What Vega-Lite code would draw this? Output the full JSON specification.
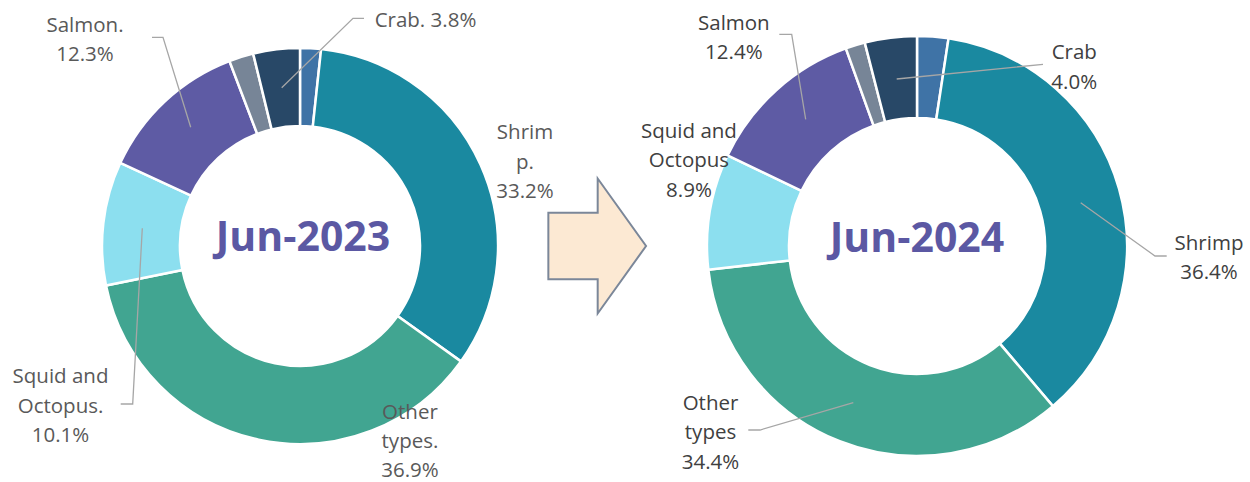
{
  "$schema": "https://vega.github.io/schema/vega-lite/v6.json",
  "width": 1250,
  "height": 492,
  "autosize": {"type": "none"},
  "padding": 0,
  "background": "white",
  "config": {"view": {"stroke": null}, "text": {"font": "Open Sans"}},
  "data": {
    "values": [
      {"period": "Jun-2023", "cat": "Unlabeled 1", "value": 1.7, "label": ""},
      {"period": "Jun-2023", "cat": "Shrimp", "value": 33.2, "label": "Shrim\np.\n33.2%"},
      {"period": "Jun-2023", "cat": "Other types", "value": 36.9, "label": "Other\ntypes.\n36.9%"},
      {"period": "Jun-2023", "cat": "Squid and Octopus", "value": 10.1, "label": "Squid and\nOctopus.\n10.1%"},
      {"period": "Jun-2023", "cat": "Salmon", "value": 12.3, "label": "Salmon.\n12.3%"},
      {"period": "Jun-2023", "cat": "Unlabeled 2", "value": 2.0, "label": ""},
      {"period": "Jun-2023", "cat": "Crab", "value": 3.8, "label": "Crab. 3.8%"},
      {"period": "Jun-2024", "cat": "Unlabeled 1", "value": 2.4, "label": ""},
      {"period": "Jun-2024", "cat": "Shrimp", "value": 36.4, "label": "Shrimp\n36.4%"},
      {"period": "Jun-2024", "cat": "Other types", "value": 34.4, "label": "Other\ntypes\n34.4%"},
      {"period": "Jun-2024", "cat": "Squid and Octopus", "value": 8.9, "label": "Squid and\nOctopus\n8.9%"},
      {"period": "Jun-2024", "cat": "Salmon", "value": 12.4, "label": "Salmon\n12.4%"},
      {"period": "Jun-2024", "cat": "Unlabeled 2", "value": 1.5, "label": ""},
      {"period": "Jun-2024", "cat": "Crab", "value": 4.0, "label": "Crab\n4.0%"}
    ]
  },
  "encoding": {
    "x": {
      "field": "period",
      "type": "nominal",
      "scale": {"type": "point", "domain": ["Jun-2023", "arrow", "Jun-2024"], "range": [300, 917], "padding": 0},
      "axis": null
    }
  },
  "layer": [
    {
      "transform": [
        {"filter": "datum.period === 'Jun-2023'"},
        {"window": [{"op": "row_number", "as": "idx"}]}
      ],
      "layer": [
        {
          "encoding": {
            "theta": {"field": "value", "type": "quantitative", "stack": true, "scale": {"domain": [0, 100]}},
            "order": {"field": "idx", "type": "quantitative"},
            "detail": {"field": "cat", "type": "nominal"}
          },
          "layer": [
            {
              "mark": {"type": "arc", "outerRadius": 198, "innerRadius": 120, "stroke": "white", "strokeWidth": 2.5},
              "encoding": {
                "color": {
                  "field": "cat", "type": "nominal", "legend": null,
                  "scale": {
                    "domain": ["Unlabeled 1", "Shrimp", "Other types", "Squid and Octopus", "Salmon", "Unlabeled 2", "Crab"],
                    "range": ["#3F73A6", "#1A89A0", "#41A591", "#8CDFEF", "#5E5BA4", "#778597", "#284867"]
                  }
                }
              }
            },
            {
              "mark": {"type": "text", "radius": 252.7, "thetaOffset": 0.6391, "align": "center", "baseline": "alphabetic", "fontSize": 20.5, "lineHeight": 29.3, "lineBreak": "\n", "color": "#595959"},
              "encoding": {"text": {"condition": {"test": "datum.cat === 'Crab'", "field": "label", "type": "nominal"}, "value": ""}}
            },
            {
              "mark": {"type": "text", "radius": 249.0, "thetaOffset": -0.0215, "align": "center", "baseline": "alphabetic", "fontSize": 20.5, "lineHeight": 29.3, "lineBreak": "\n", "color": "#595959"},
              "encoding": {"text": {"condition": {"test": "datum.cat === 'Shrimp'", "field": "label", "type": "nominal"}, "value": ""}}
            },
            {
              "mark": {"type": "text", "radius": 205.4, "thetaOffset": -0.7753, "align": "center", "baseline": "alphabetic", "fontSize": 20.5, "lineHeight": 29, "lineBreak": "\n", "color": "#595959"},
              "encoding": {"text": {"condition": {"test": "datum.cat === 'Other types'", "field": "label", "type": "nominal"}, "value": ""}}
            },
            {
              "mark": {"type": "text", "radius": 275.9, "thetaOffset": -0.636, "align": "center", "baseline": "alphabetic", "fontSize": 20.5, "lineHeight": 29.5, "lineBreak": "\n", "color": "#595959"},
              "encoding": {"text": {"condition": {"test": "datum.cat === 'Squid and Octopus'", "field": "label", "type": "nominal"}, "value": ""}}
            },
            {
              "mark": {"type": "text", "radius": 303.6, "thetaOffset": -0.0361, "align": "center", "baseline": "alphabetic", "fontSize": 20.5, "lineHeight": 29.3, "lineBreak": "\n", "color": "#595959"},
              "encoding": {"text": {"condition": {"test": "datum.cat === 'Salmon'", "field": "label", "type": "nominal"}, "value": ""}}
            }
          ]
        },
        {
          "transform": [{"filter": "datum.cat === 'Shrimp'"}],
          "mark": {
            "type": "point",
            "shape": "M-0.183,-1.583L0.53,-2.277L0.64,-2.277M-1.093,-1.187L-1.37,-2.087L-1.48,-2.087M-1.577,-0.177L-1.673,1.58L-1.793,1.58",
            "size": 40000, "filled": false, "fill": null, "stroke": "#A6A6A6", "strokeWidth": 1.3, "opacity": 1
          }
        },
        {
          "transform": [{"filter": "datum.cat === 'Shrimp'"}],
          "mark": {"type": "text", "align": "center", "baseline": "alphabetic", "dy": 4.5, "dx": 3, "fontSize": 41, "fontWeight": "bold", "color": "#5B58A3"},
          "encoding": {"text": {"field": "period", "type": "nominal"}}
        }
      ]
    },
    {
      "transform": [
        {"filter": "datum.period === 'Jun-2024'"},
        {"window": [{"op": "row_number", "as": "idx"}]}
      ],
      "layer": [
        {
          "encoding": {
            "theta": {"field": "value", "type": "quantitative", "stack": true, "scale": {"domain": [0, 100]}},
            "order": {"field": "idx", "type": "quantitative"},
            "detail": {"field": "cat", "type": "nominal"}
          },
          "layer": [
            {
              "mark": {"type": "arc", "outerRadius": 210, "innerRadius": 128, "stroke": "white", "strokeWidth": 2.5},
              "encoding": {"color": {"field": "cat", "type": "nominal", "legend": null}}
            },
            {
              "mark": {"type": "text", "radius": 244.1, "thetaOffset": 0.8257, "align": "center", "baseline": "alphabetic", "fontSize": 20.5, "lineHeight": 29.3, "lineBreak": "\n", "color": "#404040"},
              "encoding": {"text": {"condition": {"test": "datum.cat === 'Crab'", "field": "label", "type": "nominal"}, "value": ""}}
            },
            {
              "mark": {"type": "text", "radius": 292.0, "thetaOffset": 0.2901, "align": "center", "baseline": "alphabetic", "fontSize": 20.5, "lineHeight": 29.5, "lineBreak": "\n", "color": "#404040"},
              "encoding": {"text": {"condition": {"test": "datum.cat === 'Shrimp'", "field": "label", "type": "nominal"}, "value": ""}}
            },
            {
              "mark": {"type": "text", "radius": 263.7, "thetaOffset": 0.5226, "align": "center", "baseline": "alphabetic", "fontSize": 20.5, "lineHeight": 29.3, "lineBreak": "\n", "color": "#404040"},
              "encoding": {"text": {"condition": {"test": "datum.cat === 'Other types'", "field": "label", "type": "nominal"}, "value": ""}}
            },
            {
              "mark": {"type": "text", "radius": 252.2, "thetaOffset": 0.2747, "align": "center", "baseline": "alphabetic", "fontSize": 20.5, "lineHeight": 29.2, "lineBreak": "\n", "color": "#404040"},
              "encoding": {"text": {"condition": {"test": "datum.cat === 'Squid and Octopus'", "field": "label", "type": "nominal"}, "value": ""}}
            },
            {
              "mark": {"type": "text", "radius": 283.2, "thetaOffset": 0.0318, "align": "center", "baseline": "alphabetic", "fontSize": 20.5, "lineHeight": 28.5, "lineBreak": "\n", "color": "#404040"},
              "encoding": {"text": {"condition": {"test": "datum.cat === 'Salmon'", "field": "label", "type": "nominal"}, "value": ""}}
            }
          ]
        },
        {
          "transform": [{"filter": "datum.cat === 'Shrimp'"}],
          "mark": {
            "type": "point",
            "shape": "M-0.203,-1.67L1.26,-1.817M-1.113,-1.267L-1.253,-2.117L-1.377,-2.117M1.637,-0.433L2.38,0.1L2.497,0.1M-0.637,1.567L-1.57,1.84L-1.687,1.84",
            "size": 40000, "filled": false, "fill": null, "stroke": "#A6A6A6", "strokeWidth": 1.3, "opacity": 1
          }
        },
        {
          "transform": [{"filter": "datum.cat === 'Shrimp'"}],
          "mark": {"type": "text", "align": "center", "baseline": "alphabetic", "dy": 5.5, "dx": 0, "fontSize": 41, "fontWeight": "bold", "color": "#5B58A3"},
          "encoding": {"text": {"field": "period", "type": "nominal"}}
        }
      ]
    },
    {
      "transform": [{"filter": "datum.period === 'Jun-2023' && datum.cat === 'Shrimp'"}],
      "mark": {
        "type": "point",
        "shape": "M-1,-0.682L0.01,-0.682L0.01,-1.382L1,0L0.01,1.382L0.01,0.682L-1,0.682Z",
        "size": 9545, "filled": true, "fill": "#FCE9D3", "stroke": "#7B8799", "strokeWidth": 2, "opacity": 1, "xOffset": -11.3
      },
      "encoding": {"x": {"datum": "arrow", "type": "nominal"}}
    }
  ]
}
